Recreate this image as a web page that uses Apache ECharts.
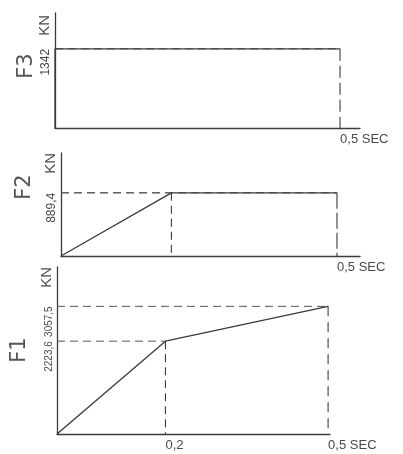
<!DOCTYPE html>
<html>
<head>
<meta charset="utf-8">
<script src="https://cdn.jsdelivr.net/npm/echarts@6/dist/echarts.min.js"></script>
<style>
  html, body { margin: 0; padding: 0; background: #fff; }
  #chart { width: 403px; height: 454px; }
</style>
</head>
<body>
<div id="chart"></div>
<script>
// Load histories of the three forces (time in seconds, force in kN)
const f1Time = [0, 0.2, 0.5];
const f1Force = [0, 2223.6, 3057.5];
const f2Time = [0, 0.2, 0.5];
const f2Force = [0, 889.4, 889.4];
const f3Time = [0, 0, 0.5];
const f3Force = [0, 1342, 1342];

// Values written along the axes
const f1TimeTicks = [0.2, 0.5];
const f1ForceTicks = [2223.6, 3057.5];
const f2TimeTicks = [0.5];
const f2ForceTicks = [889.4];
const f3TimeTicks = [0.5];
const f3ForceTicks = [1342];

const panelNames = ['F3', 'F2', 'F1'];

const INK = '#3a3a3a';
const TEXT = '#4a4a4a';
const FONT = 'Liberation Sans';

// decimal comma, as written on the drawing
const fmt = v => String(v).replace('.', ',');

// panel layout: one grid per force
const panels = [
  { name: panelNames[0], t: f3Time, f: f3Force, tt: f3TimeTicks, ft: f3ForceTicks,
    grid: { left: 55, top: 13, width: 305, height: 115 }, xMax: 0.535, yMax: 1950, nameGap: -2,
    vDash: [12, 5], numSize: 12 },
  { name: panelNames[1], t: f2Time, f: f2Force, tt: f2TimeTicks, ft: f2ForceTicks,
    grid: { left: 61, top: 153, width: 299, height: 103 }, xMax: 0.5417, yMax: 1450, nameGap: 0,
    vDash: [16, 4], numSize: 12 },
  { name: panelNames[2], t: f1Time, f: f1Force, tt: f1TimeTicks, ft: f1ForceTicks,
    grid: { left: 57, top: 267, width: 273, height: 167 }, xMax: 0.5035, yMax: 4000, nameGap: 0,
    vDash: [10, 6], numSize: 10 }
];

const grids = [], xAxes = [], yAxes = [], series = [];

panels.forEach((p, i) => {
  grids.push(p.grid);
  xAxes.push({
    type: 'value', gridIndex: i, min: 0, max: p.xMax,
    axisLine: { show: true, onZero: false, lineStyle: { color: INK, width: 1.3 } },
    axisTick: { show: false },
    splitLine: { show: false },
    axisLabel: {
      customValues: p.tt, hideOverlap: false,
      formatter: v => fmt(v) + (v === 0.5 ? ' SEC' : ''),
      align: 'left', margin: 5,
      color: TEXT, fontFamily: FONT, fontSize: 13
    }
  });
  yAxes.push({
    type: 'value', gridIndex: i, min: 0, max: p.yMax,
    name: 'KN', nameLocation: 'end', nameRotate: 90, nameGap: p.nameGap,
    nameTextStyle: {
      color: TEXT, fontFamily: FONT, fontSize: 15,
      align: 'right', verticalAlign: 'bottom', padding: [0, 0, 3, 0]
    },
    axisLine: { show: true, onZero: false, lineStyle: { color: INK, width: 1.3 } },
    axisTick: { show: false },
    splitLine: { show: false },
    axisLabel: {
      customValues: p.ft, hideOverlap: false,
      formatter: v => fmt(v),
      rotate: 90, align: 'right', verticalAlign: 'bottom', margin: 3,
      color: TEXT, fontFamily: FONT, fontSize: p.numSize
    }
  });

  // dashed guides from each labelled point back to both axes
  for (let k = 1; k < p.t.length; k++) {
    const t = p.t[k], f = p.f[k];
    if (t === 0) continue;
    series.push({
      type: 'line', xAxisIndex: i, yAxisIndex: i, z: 1,
      data: [[0, f], [t, f]], showSymbol: false, silent: true,
      lineStyle: { color: '#555', width: 1, type: [8, 5] }
    });
    series.push({
      type: 'line', xAxisIndex: i, yAxisIndex: i, z: 1,
      data: [[t, f], [t, 0]], showSymbol: false, silent: true,
      lineStyle: { color: INK, width: 1.1, type: t === 0.5 ? p.vDash : [8, 5] }
    });
  }

  // the force history itself
  series.push({
    type: 'line', xAxisIndex: i, yAxisIndex: i, z: 3,
    data: p.t.map((t, k) => [t, p.f[k]]), showSymbol: false, silent: true,
    lineStyle: { color: INK, width: 1.3 }
  });
});

const chart = echarts.init(document.getElementById('chart'), null, { renderer: 'canvas' });
chart.setOption({
  backgroundColor: '#fff',
  animation: false,
  grid: grids,
  xAxis: xAxes,
  yAxis: yAxes,
  series: series,
  graphic: [
    { type: 'text', x: 27, y: 66, rotation: Math.PI / 2,
      style: { text: panelNames[0], fill: '#555', font: '21px "DejaVu Sans"', align: 'center', verticalAlign: 'middle' } },
    { type: 'text', x: 25, y: 187, rotation: Math.PI / 2,
      style: { text: panelNames[1], fill: '#555', font: '21px "DejaVu Sans"', align: 'center', verticalAlign: 'middle' } },
    { type: 'text', x: 20, y: 350, rotation: Math.PI / 2,
      style: { text: panelNames[2], fill: '#555', font: '21px "DejaVu Sans"', align: 'center', verticalAlign: 'middle' } }
  ]
});
</script>
</body>
</html>
